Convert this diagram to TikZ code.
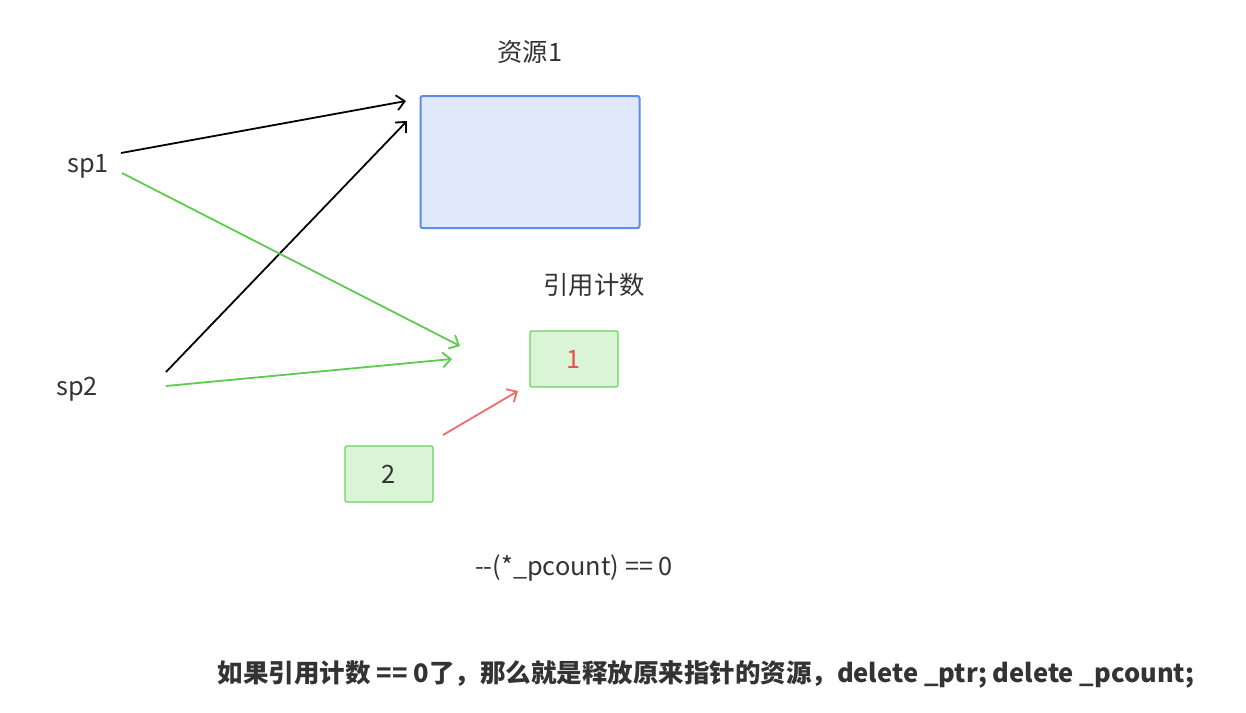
\documentclass[tikz,border=0pt]{standalone}
\usepackage{fontspec}
\setmainfont{Noto Sans CJK SC}
\usetikzlibrary{arrows.meta}
\definecolor{txt}{HTML}{333333}
\definecolor{bluefill}{HTML}{E0E8FC}
\definecolor{bluedraw}{HTML}{5B8DEF}
\definecolor{greenfill}{HTML}{D9F5D6}
\definecolor{greendraw}{HTML}{6BD160}
\definecolor{greenline}{HTML}{5DCB4E}
\definecolor{redline}{HTML}{F26B6B}
\definecolor{rednum}{HTML}{F04E4E}
\tikzset{
  lbl/.style={text=txt, font=\fontsize{25.3}{30}\selectfont, inner sep=0pt},
  countbox/.style={draw=greendraw, fill=greenfill, line width=1.2pt, rounded corners=2pt, minimum width=88pt, minimum height=56pt, inner sep=0pt, font=\fontsize{25.3}{30}\selectfont},
  resbox/.style={draw=bluedraw, fill=bluefill, line width=2pt, rounded corners=2pt, minimum width=219pt, minimum height=132pt, inner sep=0pt},
  arr/.style={-{Straight Barb[length=8pt,width=15pt,line width=1.8pt]}, line width=1.8pt},
  garr/.style={arr, greenline, line width=1.8pt},
  rarr/.style={arr, redline, line width=1.8pt}
}
\begin{document}
\begin{tikzpicture}[x=1pt,y=-1pt]
\useasboundingbox[fill=white] (0,0) rectangle (1246,712);
\node[resbox] (res) at (530,162) {};
\node[lbl] (reslbl) at (530,52) {资源1};
\node[lbl] (cntlbl) at (594,285) {引用计数};
\node[countbox, text=rednum] (c1) at (574,359) {1};
\node[countbox, text=txt] (c2) at (389,474) {2};
\node[lbl] (sp1) at (88,166) {sp1};
\node[lbl] (sp2) at (77,389) {sp2};
\node[lbl] (dec) at (574,568) {-{}-(*\_pcount) == 0};
\node[lbl, font=\fontsize{25.5}{30}\selectfont\bfseries] (note) at (706,674) {如果引用计数 == 0了，那么就是释放原来指针的资源，delete \_ptr; delete \_pcount;};
\coordinate (a1s) at (121,153);
\coordinate (a1e) at (406,101);
\coordinate (a2s) at (166,372);
\coordinate (a2e) at (407,121);
\coordinate (g1s) at (122,173);
\coordinate (g1e) at (460,346);
\coordinate (g2s) at (166,386);
\coordinate (g2e) at (452,359);
\coordinate (r1s) at (443,435);
\coordinate (r1e) at (518,391);
\draw[arr] (a1s) -- (a1e);
\draw[arr] (a2s) -- (a2e);
\draw[garr] (g1s) -- (g1e);
\draw[garr] (g2s) -- (g2e);
\draw[rarr] (r1s) -- (r1e);
\end{tikzpicture}
\end{document}
